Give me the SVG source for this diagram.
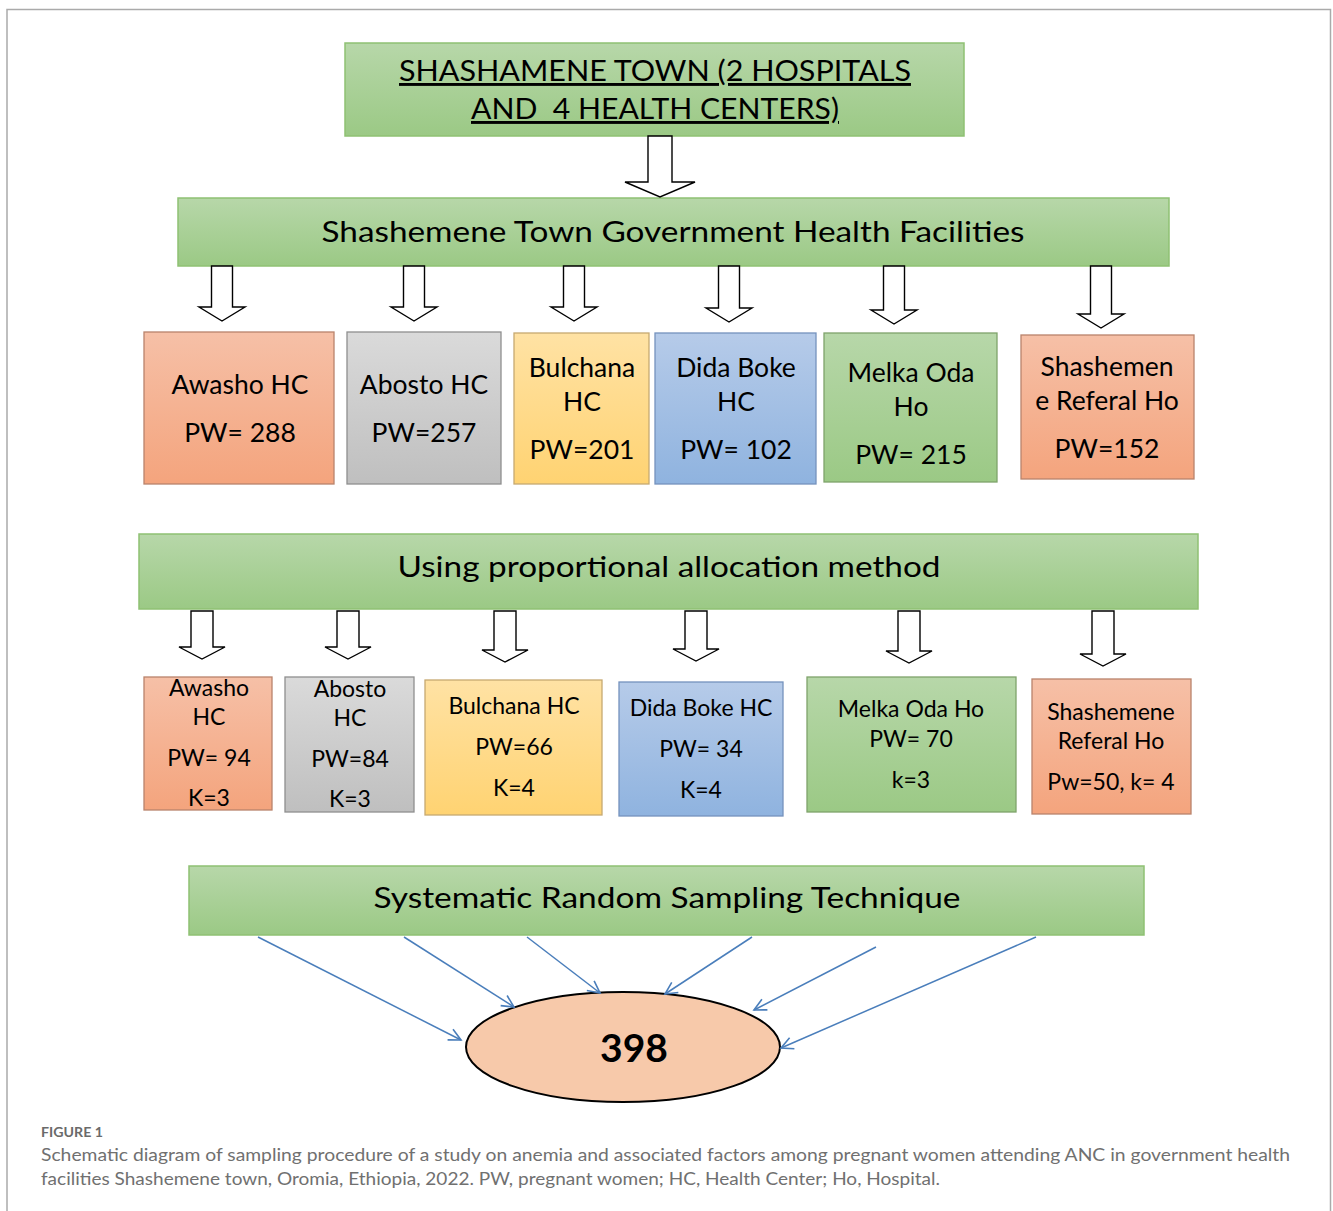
<svg xmlns="http://www.w3.org/2000/svg" width="1333" height="1211" viewBox="0 0 1333 1211">
<defs>
<linearGradient id="gGreen" x1="0" y1="0" x2="0" y2="1"><stop offset="0" stop-color="#b7d7a9"/><stop offset="1" stop-color="#9bc985"/></linearGradient>
<linearGradient id="gOrange" x1="0" y1="0" x2="0" y2="1"><stop offset="0" stop-color="#f6c0a7"/><stop offset="1" stop-color="#f4a47d"/></linearGradient>
<linearGradient id="gGray" x1="0" y1="0" x2="0" y2="1"><stop offset="0" stop-color="#dadada"/><stop offset="1" stop-color="#bfbfbf"/></linearGradient>
<linearGradient id="gYellow" x1="0" y1="0" x2="0" y2="1"><stop offset="0" stop-color="#ffe2a4"/><stop offset="1" stop-color="#ffd372"/></linearGradient>
<linearGradient id="gBlue" x1="0" y1="0" x2="0" y2="1"><stop offset="0" stop-color="#b6cbe9"/><stop offset="1" stop-color="#8fb3df"/></linearGradient>
<marker id="open" markerUnits="userSpaceOnUse" markerWidth="16" markerHeight="16" refX="13" refY="7" orient="auto" viewBox="0 0 16 14">
<path d="M1,1 L13,7 L1,13" fill="none" stroke="#4a7ebb" stroke-width="1.6"/>
</marker>
</defs>
<style>
text{font-family:Lato,"Liberation Sans",sans-serif;fill:#000;text-anchor:middle}
.hdr{font-size:29px}
.r1{font-size:26.5px}
.r2{font-size:23px}
.g{fill:url(#gGreen);stroke:#8fc173;stroke-width:1.5}
.o{fill:url(#gOrange);stroke:#b9836c;stroke-width:1.3}
.gr{fill:url(#gGray);stroke:#8f8f8f;stroke-width:1.3}
.y{fill:url(#gYellow);stroke:#c7a970;stroke-width:1.3}
.b{fill:url(#gBlue);stroke:#7592bd;stroke-width:1.3}
.mg{fill:url(#gGreen);stroke:#7fa36b;stroke-width:1.3}
.blk{fill:#fff;stroke:#000;stroke-width:1.4;stroke-linejoin:miter}
.con{stroke:#4a7ebb;stroke-width:1.5;fill:none;marker-end:url(#open)}
.cap{font-family:Lato,"Liberation Sans",sans-serif;fill:#707070;text-anchor:start}
</style>
<path d="M7,1211 V9.5 H1330.5 V1211" fill="none" stroke="#aaaaaa" stroke-width="1.5"/>

<g id="n-top">
<rect class="g" x="345" y="43" width="619" height="93"/>
<text class="hdr" x="655" y="81" text-decoration="underline" textLength="512" lengthAdjust="spacingAndGlyphs">SHASHAMENE TOWN (2 HOSPITALS</text>
<text class="hdr" x="655" y="119" xml:space="preserve" text-decoration="underline" textLength="368" lengthAdjust="spacingAndGlyphs">AND  4 HEALTH CENTERS)</text>
</g>
<g id="n-facilities">
<rect class="g" x="178" y="198" width="991" height="68"/>
<text class="hdr" x="673" y="242" textLength="703" lengthAdjust="spacingAndGlyphs">Shashemene Town Government Health Facilities</text>
</g>

<g id="n-awasho1"><rect class="o" x="144" y="332" width="190" height="152"/>
<text class="r1" x="240" y="394">Awasho HC</text><text class="r1" x="240" y="442">PW= 288</text></g>
<g id="n-abosto1"><rect class="gr" x="347" y="332" width="154" height="152"/>
<text class="r1" x="424" y="394">Abosto HC</text><text class="r1" x="424" y="442">PW=257</text></g>
<g id="n-bulchana1"><rect class="y" x="514" y="333" width="135" height="151"/>
<text class="r1" x="582" y="377">Bulchana</text><text class="r1" x="582" y="411">HC</text><text class="r1" x="582" y="459">PW=201</text></g>
<g id="n-dida1"><rect class="b" x="655" y="333" width="161" height="151"/>
<text class="r1" x="736" y="377">Dida Boke</text><text class="r1" x="736" y="411">HC</text><text class="r1" x="736" y="459">PW= 102</text></g>
<g id="n-melka1"><rect class="mg" x="824" y="333" width="173" height="149"/>
<text class="r1" x="911" y="382">Melka Oda</text><text class="r1" x="911" y="416">Ho</text><text class="r1" x="911" y="464">PW= 215</text></g>
<g id="n-shash1"><rect class="o" x="1021" y="335" width="173" height="144"/>
<text class="r1" x="1107" y="376">Shashemen</text><text class="r1" x="1107" y="410">e Referal Ho</text><text class="r1" x="1107" y="458">PW=152</text></g>

<g id="n-proportional">
<rect class="g" x="139" y="534" width="1059" height="75"/>
<text class="hdr" x="669" y="577" textLength="543" lengthAdjust="spacingAndGlyphs">Using proportional allocation method</text>
</g>

<g id="n-awasho2"><rect class="o" x="144" y="677" width="128" height="133"/>
<text class="r2" x="209" y="696">Awasho</text><text class="r2" x="209" y="725">HC</text><text class="r2" x="209" y="766">PW= 94</text><text class="r2" x="209" y="806">K=3</text></g>
<g id="n-abosto2"><rect class="gr" x="285" y="677" width="129" height="135"/>
<text class="r2" x="350" y="697">Abosto</text><text class="r2" x="350" y="726">HC</text><text class="r2" x="350" y="767">PW=84</text><text class="r2" x="350" y="807">K=3</text></g>
<g id="n-bulchana2"><rect class="y" x="425" y="680" width="177" height="135"/>
<text class="r2" x="514" y="714">Bulchana HC</text><text class="r2" x="514" y="755">PW=66</text><text class="r2" x="514" y="796">K=4</text></g>
<g id="n-dida2"><rect class="b" x="619" y="682" width="164" height="134"/>
<text class="r2" x="701" y="716">Dida Boke HC</text><text class="r2" x="701" y="757">PW= 34</text><text class="r2" x="701" y="798">K=4</text></g>
<g id="n-melka2"><rect class="mg" x="807" y="677" width="209" height="135"/>
<text class="r2" x="911" y="717">Melka Oda Ho</text><text class="r2" x="911" y="747">PW= 70</text><text class="r2" x="911" y="788">k=3</text></g>
<g id="n-shash2"><rect class="o" x="1032" y="679" width="159" height="135"/>
<text class="r2" x="1111" y="720">Shashemene</text><text class="r2" x="1111" y="749">Referal Ho</text><text class="r2" x="1111" y="790">Pw=50, k= 4</text></g>

<g id="n-systematic">
<rect class="g" x="189" y="866" width="955" height="69"/>
<text class="hdr" x="667" y="908" textLength="587" lengthAdjust="spacingAndGlyphs">Systematic Random Sampling Technique</text>
</g>

<g id="n-total">
<ellipse cx="623" cy="1047" rx="157" ry="55" fill="#f7c9aa" stroke="#000" stroke-width="2"/>
<text x="634" y="1062" style="font-size:39px;font-weight:bold">398</text>
</g>

<g id="connectors">
<polygon class="blk" points="648,136 672,136 672,182 695,182 660,197 625,182 648,182"/>
<polygon class="blk" points="211.5,266 232.5,266 232.5,307 245,307 222,321 199,307 211.5,307"/>
<polygon class="blk" points="403.5,266 424.5,266 424.5,307 437,307 414,321 391,307 403.5,307"/>
<polygon class="blk" points="563.5,266 584.5,266 584.5,307 597,307 574,321 551,307 563.5,307"/>
<polygon class="blk" points="718.5,266 739.5,266 739.5,308 752,308 729,322 706,308 718.5,308"/>
<polygon class="blk" points="883.5,266 904.5,266 904.5,310 917,310 894,324 871,310 883.5,310"/>
<polygon class="blk" points="1090.5,266 1111.5,266 1111.5,314 1124,314 1101,328 1078,314 1090.5,314"/>
<polygon class="blk" points="191,611 213,611 213,647 225,647 202,659 179,647 191,647"/>
<polygon class="blk" points="337,611 359,611 359,647 371,647 348,659 325,647 337,647"/>
<polygon class="blk" points="494,611 516,611 516,650 528,650 505,662 482,650 494,650"/>
<polygon class="blk" points="685,611 707,611 707,649 719,649 696,661 673,649 685,649"/>
<polygon class="blk" points="898,611 920,611 920,651 932,651 909,663 886,651 898,651"/>
<polygon class="blk" points="1092,611 1114,611 1114,654 1126,654 1103,666 1080,654 1092,654"/>
<line class="con" x1="258" y1="937" x2="461" y2="1040"/>
<line class="con" x1="404" y1="937" x2="514" y2="1007"/>
<line class="con" x1="527" y1="937" x2="600" y2="993"/>
<line class="con" x1="752" y1="937" x2="665" y2="994"/>
<line class="con" x1="876" y1="947" x2="754" y2="1010"/>
<line class="con" x1="1036" y1="937" x2="781" y2="1048"/>
</g>

<g id="caption">
<text class="cap" x="41" y="1137" style="font-size:13px;font-weight:bold;fill:#6a6a6a" textLength="62" lengthAdjust="spacingAndGlyphs">FIGURE 1</text>
<text class="cap" x="41" y="1161" style="font-size:17.5px" textLength="1249" lengthAdjust="spacingAndGlyphs">Schematic diagram of sampling procedure of a study on anemia and associated factors among pregnant women attending ANC in government health</text>
<text class="cap" x="41" y="1185" style="font-size:17.5px" textLength="899" lengthAdjust="spacingAndGlyphs">facilities Shashemene town, Oromia, Ethiopia, 2022. PW, pregnant women; HC, Health Center; Ho, Hospital.</text>
</g>
</svg>
